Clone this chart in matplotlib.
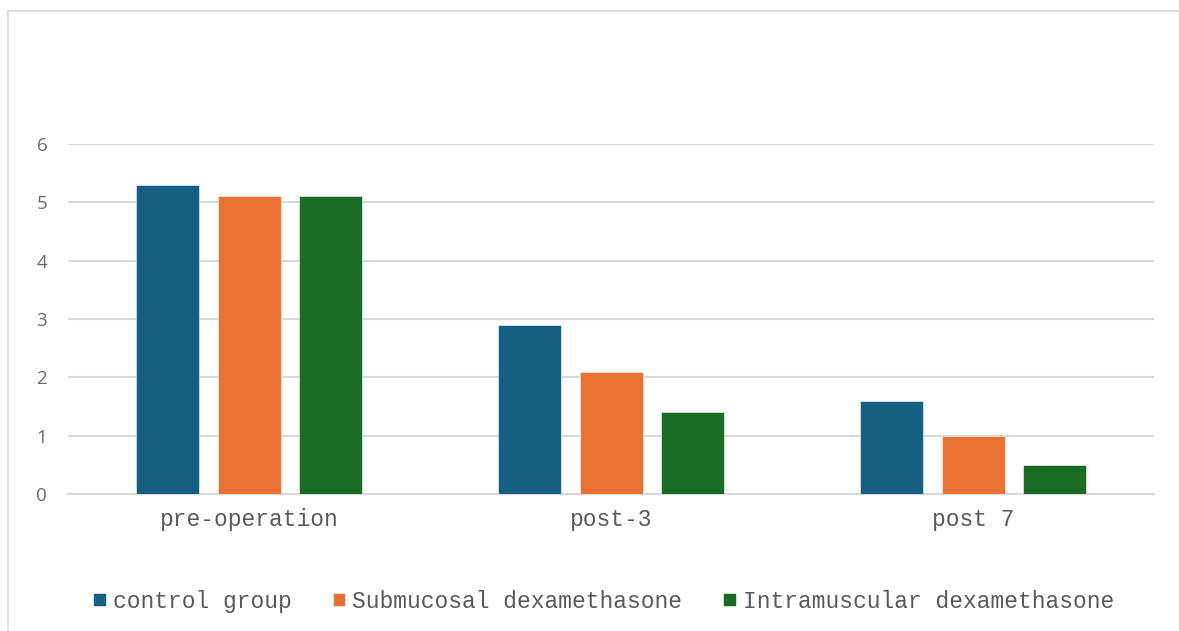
import matplotlib.pyplot as plt
import numpy as np
from matplotlib.patches import Rectangle

# data
categories = ['pre-operation', 'post-3', 'post 7']
series_names = ['control group', 'Submucosal dexamethasone', 'Intramuscular dexamethasone']
control = [5.3, 2.9, 1.6]
submucosal = [5.1, 2.1, 1.0]
intramuscular = [5.1, 1.4, 0.5]
colors = ['#156082', '#E97132', '#196B24']

fig = plt.figure(figsize=(11.79, 6.31), dpi=100)
ax = fig.add_axes([0.0577, 0.2171, 0.9211, 0.5547])

# light grey outline round the chart, like the Office frame
fig.patches.append(Rectangle((8 / 1179, -0.1), 1.2, 1 - 11 / 631 + 0.1,
                             transform=fig.transFigure, fill=False,
                             edgecolor='#d9d9d9', linewidth=1.2))

x = np.arange(len(categories))
width = 0.174
step = 0.224
for i, (vals, name) in enumerate(zip([control, submucosal, intramuscular], series_names)):
    ax.bar(x + (i - 1) * step, vals, width, color=colors[i], label=name,
           edgecolor='white', linewidth=0.4, zorder=3)

ax.set_xlim(-0.5, 2.5)
ax.set_ylim(0, 6)
ax.set_yticks(range(0, 7))
ax.set_xticks(x)
ax.set_xticklabels(categories, family='Liberation Mono', fontsize=16.5, color='#595959')
ax.tick_params(axis='y', length=0, pad=15, labelsize=13.5, labelcolor='#6a6a6a')
ax.tick_params(axis='x', length=0, pad=10)
for lbl in ax.get_yticklabels():
    lbl.set_family('Open Sans')

ax.grid(axis='y', color='#d9d9d9', linewidth=1.5, zorder=0)
for s in ['top', 'right', 'left']:
    ax.spines[s].set_visible(False)
ax.spines['bottom'].set_color('#d9d9d9')
ax.spines['bottom'].set_linewidth(1.5)

fig.legend(loc='center', bbox_to_anchor=(0.512, 0.0475), ncol=3, frameon=False,
           prop={'family': 'Liberation Mono', 'size': 16.5}, labelcolor='#595959',
           handlelength=0.55, handleheight=0.55, handletextpad=0.3, columnspacing=1.8)

plt.savefig('out.png', dpi=100)
